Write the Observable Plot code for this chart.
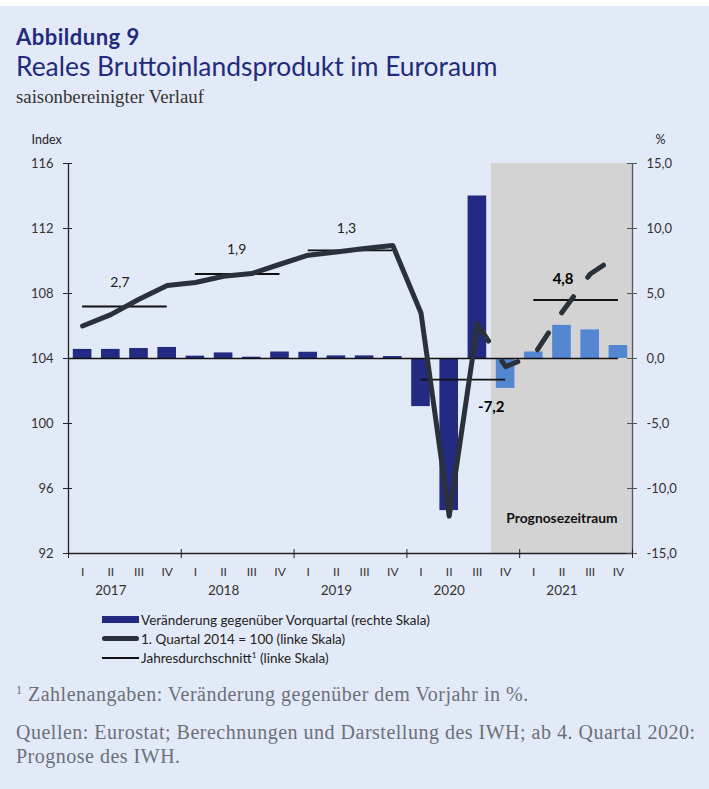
<!DOCTYPE html>
<html>
<head>
<meta charset="utf-8">
<script src="https://cdn.jsdelivr.net/npm/d3@7"></script>
<script src="https://cdn.jsdelivr.net/npm/@observablehq/plot@0.6"></script>
<style>
  html, body { margin: 0; padding: 0; }
  body { width: 709px; height: 789px; background: #ffffff; overflow: hidden; position: relative; }
  #page { position: absolute; top: 6px; left: 0; width: 709px; height: 783px; background: #E3EAF7; }
  .t { position: absolute; left: 16px; white-space: nowrap; }
  #abb { top: 25px; font-family: Lato, sans-serif; font-weight: 700; font-size: 22px; letter-spacing: 0.5px; color: #232A7E; line-height: 24px; }
  #title { top: 49px; font-family: Lato, sans-serif; font-weight: 400; font-size: 26.4px; color: #232A7E; line-height: 34px; }
  #subtitle { top: 86px; font-family: "Liberation Serif", serif; font-size: 18.8px; color: #333; line-height: 22px; }
  #chart { position: absolute; top: 120px; left: 0; }
  #legend { position: absolute; top: 610px; left: 102px; font-family: Lato, sans-serif; font-size: 13.5px; color: #222; }
  .row { height: 19.3px; display: flex; align-items: center; }
  .sw { width: 38px; height: 19.3px; position: relative; margin-right: 1px; }
  .bar { position: absolute; left: 0; top: 6px; width: 37px; height: 6.5px; background: #232A82; }
  .thick { position: absolute; left: 0; top: 7px; width: 37px; height: 5px; background: #2B313A; border-radius: 3px; }
  .thin { position: absolute; left: 0; top: 8.7px; width: 37px; height: 1.8px; background: #111; }
  .foot { position: absolute; left: 16px; font-family: "Liberation Serif", serif; font-size: 20px; letter-spacing: 0.5px; color: #6B7078; white-space: nowrap; line-height: 24px; }
  #f1 { top: 682px; }
  #f2 { top: 720px; }
  #f3 { top: 744px; }
  sup { font-size: 0.6em; vertical-align: 0.6em; line-height: 0; }
</style>
</head>
<body>
<div id="page"></div>
<div class="t" id="abb">Abbildung 9</div>
<div class="t" id="title">Reales Bruttoinlandsprodukt im Euroraum</div>
<div class="t" id="subtitle">saisonbereinigter Verlauf</div>
<div id="chart"></div>
<div id="legend">
  <div class="row"><div class="sw"><div class="bar"></div></div><span>Veränderung gegenüber Vorquartal (rechte Skala)</span></div>
  <div class="row"><div class="sw"><div class="thick"></div></div><span>1. Quartal 2014 = 100 (linke Skala)</span></div>
  <div class="row"><div class="sw"><div class="thin"></div></div><span>Jahresdurchschnitt<sup>1</sup> (linke Skala)</span></div>
</div>
<div class="foot" id="f1"><sup>1</sup> Zahlenangaben: Veränderung gegenüber dem Vorjahr in %.</div>
<div class="foot" id="f2">Quellen: Eurostat; Berechnungen und Darstellung des IWH; ab 4. Quartal 2020:</div>
<div class="foot" id="f3">Prognose des IWH.</div>

<script>
// ---- Data ----
const years = [2017, 2018, 2019, 2020, 2021];
const quarterNames = ["I", "II", "III", "IV"];
// Change vs previous quarter, % (right scale)
const growth = [0.7, 0.7, 0.77, 0.85, 0.18, 0.43, 0.1, 0.5, 0.48, 0.2, 0.2, 0.15,
                -3.7, -11.7, 12.5, -2.3, 0.5, 2.55, 2.2, 1.0];
// Index, 1st quarter 2014 = 100 (left scale)
const gdpIndex = [106.0, 106.7, 107.65, 108.49, 108.68, 109.06, 109.23, 109.8,
                  110.36, 110.56, 110.77, 110.95, 106.8, 94.3, 106.1, 103.5,
                  104.2, 106.85, 109.2, 110.35];
// Annual averages (left scale) and their labels (change vs previous year, %)
const annualAvg = [107.2, 109.2, 110.65, 102.7, 107.6];
const annualLabels = ["2,7", "1,9", "1,3", "-7,2", "4,8"];
const forecastStartYear = 2020, forecastStartQuarter = "IV";
const leftTicks = [92, 96, 100, 104, 108, 112, 116];
const rightTicks = [-15, -10, -5, 0, 5, 10, 15];

// ---- Derived tables ----
const rows = [];
years.forEach((y, yi) => quarterNames.forEach((q, qi) => {
  const i = yi * 4 + qi;
  rows.push({i, year: y, q, growth: growth[i], index: gdpIndex[i]});
}));
const fIdx = rows.findIndex(d => d.year === forecastStartYear && d.q === forecastStartQuarter);
rows.forEach(d => d.forecast = d.i >= fIdx);
const n = rows.length;

const yMin = d3.min(leftTicks), yMax = d3.max(leftTicks);
const base = leftTicks[Math.floor(leftTicks.length / 2)]; // 104 <-> 0 %
const k = (yMax - base) / d3.max(rightTicks);            // index units per %
const toIdx = p => base + p * k;
const fromIdx = v => (v - base) / k;
const xMin = -0.5, xMax = n - 0.5;

const annual = years.map((y, yi) => ({year: y, start: yi * 4, end: yi * 4 + 3, avg: annualAvg[yi], label: annualLabels[yi], bold: y >= forecastStartYear}));
const boundaries = d3.range(0, years.length + 1).map(j => j * 4 - 0.5);

const navy = "#232A82", lightBlue = "#5487D1", lineCol = "#2B313A";
const fontFam = "Lato, 'DejaVu Sans', sans-serif";
const hw = 0.33;

const labelStyle = {
  2017: {dx: -5, dy: -24}, 2018: {dx: -1, dy: -24}, 2019: {dx: -4, dy: -22},
  2020: {dx: 28, dy: 28}, 2021: {dx: -13, dy: -21}
};

const marks = [
  // forecast shading
  Plot.rect([{x1: fIdx - 0.5, x2: xMax}], {x1: "x1", x2: "x2", y1: yMin, y2: yMax, fill: "#D3D3D3"}),
  // bars
  Plot.rectY(rows.filter(d => !d.forecast), {x1: d => d.i - hw, x2: d => d.i + hw, y1: base, y2: d => toIdx(d.growth), fill: navy}),
  Plot.rectY(rows.filter(d => d.forecast), {x1: d => d.i - hw, x2: d => d.i + hw, y1: base, y2: d => toIdx(d.growth), fill: lightBlue}),
  // zero line
  Plot.ruleY([base], {x1: xMin, x2: n - 1, stroke: "#111", strokeWidth: 1.4}),
  // axis lines
  Plot.ruleX([xMin], {stroke: "#222", strokeWidth: 1.3}),
  Plot.ruleX([xMax], {stroke: "#555", strokeWidth: 1.3}),
  Plot.ruleY([yMin], {stroke: "#222", strokeWidth: 1.3}),
  // annual averages
  Plot.ruleY(annual, {y: "avg", x1: "start", x2: "end", stroke: "#111", strokeWidth: 1.8}),
  // index line
  Plot.line(rows.filter(d => d.i <= fIdx - 1), {x: "i", y: "index", stroke: lineCol, strokeWidth: 5, strokeLinejoin: "round", strokeLinecap: "round"}),
  Plot.line(rows.filter(d => d.i >= fIdx - 1), {x: "i", y: "index", stroke: lineCol, strokeWidth: 5, strokeLinejoin: "round", strokeLinecap: "round", strokeDasharray: "20,24"}),
  // annual labels
  ...annual.map(a => Plot.text([a], {x: d => (d.start + d.end) / 2, y: "avg", text: "label",
      dx: labelStyle[a.year].dx, dy: labelStyle[a.year].dy, fontSize: a.bold ? 15 : 14,
      fontWeight: a.bold ? "bold" : "normal", fill: a.bold ? "#000" : "#222"})),
  Plot.text(["Prognosezeitraum"], {x: (fIdx - 0.5 + xMax) / 2, y: yMin, dy: -35, fontSize: 13.8, fontWeight: "bold", fill: "#111"}),
  // axis titles
  Plot.text(["Index"], {frameAnchor: "top-left", dx: -37, dy: -28, textAnchor: "start", fontSize: 12.5, fill: "#222"}),
  Plot.text(["%"], {frameAnchor: "top-right", dx: 28, dy: -28, textAnchor: "middle", fontSize: 12.5, fill: "#222"}),
  // axes
  Plot.axisY(leftTicks, {anchor: "left", tickSize: 9, dx: 4, tickPadding: 10, fontSize: 13, tickFormat: d => String(d), label: null, stroke: "#222", fill: "#333"}),
  Plot.axisY(rightTicks.map(toIdx), {anchor: "right", tickSize: 10, dx: -6, tickPadding: 10, fontSize: 13, label: null, stroke: "#555", fill: "#333",
      tickFormat: v => fromIdx(v).toFixed(1).replace(".", ",")}),
  Plot.axisX(boundaries, {anchor: "bottom", tickSize: 9, dy: -4, tickFormat: () => "", label: null, stroke: "#222"}),
  Plot.axisX(rows.map(d => d.i), {anchor: "bottom", tickSize: 0, tickPadding: 14, fontSize: 12, label: null, fill: "#333",
      tickFormat: i => rows[i].q}),
  Plot.axisX(rows.filter(d => d.q === "II").map(d => d.i), {anchor: "bottom", tickSize: 0, tickPadding: 32, fontSize: 13.5, label: null, fill: "#333",
      tickFormat: i => String(rows[i].year)})
];

const chart = Plot.plot({
  width: 709,
  height: 490,
  marginTop: 43,
  marginBottom: 57,
  marginLeft: 68,
  marginRight: 77,
  style: {background: "transparent", fontFamily: fontFam, color: "#333", overflow: "visible"},
  x: {domain: [xMin, xMax]},
  y: {domain: [yMin, yMax]},
  marks
});
document.getElementById("chart").appendChild(chart);
</script>
</body>
</html>
